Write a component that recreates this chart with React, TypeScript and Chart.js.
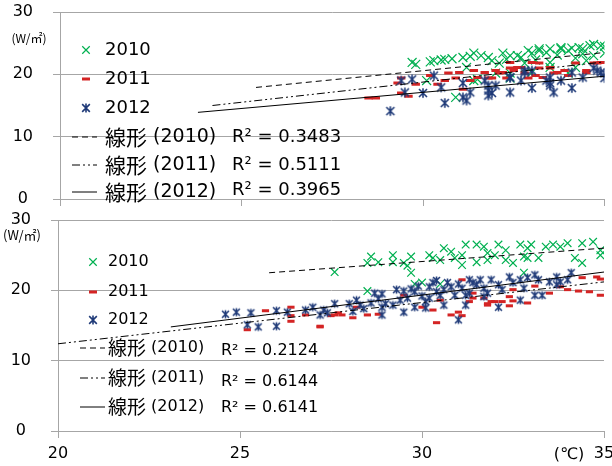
import React, { useEffect, useRef } from 'react';
import { Chart, registerables } from 'chart.js';

Chart.register(...registerables);

type P = [number, number];

const xTicks = [20, 25, 30, 35];
const yTicks = [0, 10, 20, 30];
const seriesNames = ['2010', '2011', '2012'];
const trendWord = '線形';
const trendYears = [' (2010)', ' (2011)', ' (2012)'];
const topR2 = ['R² = 0.3483', 'R² = 0.5111', 'R² = 0.3965'];
const bottomR2 = ['R² = 0.2124', 'R² = 0.6144', 'R² = 0.6141'];
const unitY = '(W/㎡)';
const unitX = '(℃)';

// ---- top chart data ----
const top2010: P[] = [
  [29.8, 21.6], [30.3, 22.2], [30.6, 22.4], [31.1, 22.7], [31.4, 23.4], [31.8, 22.7], [32.2, 23.4], [32.6, 23.0],
  [32.9, 23.8], [33.2, 23.8], [33.5, 24.1], [33.8, 24.1], [34.0, 23.8], [34.3, 24.3], [34.6, 24.6], [34.9, 24.6],
  [30.1, 19.0], [30.9, 16.3], [31.4, 19.0], [32.0, 20.2], [32.4, 19.4], [33.0, 20.3], [33.5, 21.1], [34.2, 21.1],
  [34.5, 22.2], [29.7, 21.9], [30.2, 22.0], [30.5, 22.3], [30.8, 22.5], [31.3, 22.9], [31.6, 23.0], [31.9, 22.2],
  [31.2, 21.1], [31.5, 19.2], [32.1, 21.8], [32.4, 23.0], [32.7, 22.7], [33.0, 23.4], [33.2, 24.1], [33.4, 23.5],
  [33.8, 24.3], [34.1, 24.2], [34.4, 24.1], [34.7, 24.8], [35.0, 24.5], [33.5, 21.9], [32.8, 21.8], [34.2, 22.6],
  [34.7, 23.0], [35.0, 23.4], [32.4, 20.2], [34.0, 20.2], [32.3, 22.4], [33.1, 22.3], [33.7, 23.1], [34.4, 23.3],
];
const top2011: P[] = [
  [28.5, 16.2], [28.7, 16.2], [29.4, 19.4], [29.3, 18.6], [29.4, 17.0], [29.6, 16.5], [29.8, 18.4], [30.2, 19.8],
  [30.4, 18.4], [30.6, 19.0], [30.7, 20.2], [30.9, 19.4], [31.0, 20.3], [31.1, 17.6], [31.3, 19.0], [31.4, 20.6],
  [31.5, 19.5], [31.7, 20.3], [31.8, 19.4], [32.0, 20.6], [32.2, 20.3], [32.3, 19.4], [32.4, 21.0], [32.5, 20.6],
  [32.7, 21.1], [32.8, 20.2], [33.0, 21.9], [33.1, 19.8], [33.2, 21.8], [33.3, 19.5], [33.5, 21.0], [33.7, 20.3],
  [34.0, 19.8], [34.2, 21.8], [34.5, 20.6], [34.7, 21.8], [34.9, 21.9], [32.4, 21.9], [32.6, 21.1], [32.1, 20.2],
  [31.9, 19.4], [33.2, 21.0], [33.5, 21.1], [33.6, 20.2], [33.9, 20.6], [34.5, 20.3], [34.8, 21.8], [32.9, 19.4],
];
const top2012: P[] = [
  [29.1, 14.1], [29.4, 19.0], [29.5, 17.1], [29.7, 19.2], [30.0, 17.0], [30.3, 19.8], [30.5, 17.9], [30.6, 15.4],
  [31.1, 18.6], [31.1, 16.3], [31.2, 15.8], [31.3, 17.1], [31.7, 19.0], [31.8, 17.4], [31.8, 16.6], [32.0, 18.2],
  [32.4, 17.1], [32.4, 19.5], [32.8, 20.6], [33.0, 20.6], [33.0, 17.8], [33.5, 19.5], [33.5, 18.2], [33.6, 17.1],
  [33.8, 19.0], [34.1, 17.8], [34.1, 20.3], [34.4, 19.5], [34.7, 21.0], [34.9, 20.3], [35.0, 19.4], [31.8, 18.2],
  [32.8, 20.3], [33.4, 19.0], [34.8, 20.6], [35.0, 20.2], [32.4, 19.5], [32.7, 19.0], [33.5, 18.6], [31.9, 17.0],
];
const topTrend2010: P[] = [[25.4, 17.9], [35, 23.5]];
const topTrend2011: P[] = [[24.2, 15.0], [35, 22.0]];
const topTrend2012: P[] = [[23.8, 13.9], [35, 19.7]];

// ---- bottom chart data ----
const bot2010: P[] = [
  [27.6, 22.6], [28.5, 23.9], [28.6, 24.8], [28.8, 24.0], [29.2, 25.0], [29.2, 24.0], [29.5, 23.9], [29.7, 24.8],
  [29.7, 22.5], [29.6, 23.5], [30.2, 25.0], [30.3, 24.6], [30.5, 24.3], [30.6, 26.0], [30.8, 25.5], [30.9, 24.6],
  [31.1, 25.0], [31.2, 26.5], [31.1, 23.6], [28.5, 19.9], [29.8, 20.9], [30.0, 21.1], [30.5, 20.9], [31.5, 26.5],
  [31.7, 26.2], [31.8, 25.3], [31.5, 24.0], [31.8, 24.3], [32.0, 25.0], [32.1, 26.5], [32.3, 25.7], [32.3, 24.3],
  [32.5, 23.9], [32.7, 26.5], [32.8, 24.8], [32.9, 26.0], [32.9, 24.6], [33.0, 26.5], [33.2, 24.6], [33.4, 26.2],
  [33.6, 26.5], [33.8, 26.2], [34.0, 26.7], [34.2, 24.6], [34.4, 23.9], [34.4, 26.7], [34.7, 26.9], [34.9, 25.7],
  [34.9, 25.0], [32.8, 22.5],
];
const bot2011: P[] = [
  [25.7, 17.1], [25.2, 14.4], [26.4, 17.6], [26.4, 16.4], [26.4, 15.6], [26.8, 16.5], [27.2, 14.8], [27.5, 16.4],
  [27.7, 16.8], [27.6, 16.5], [27.8, 16.5], [28.1, 16.1], [28.2, 17.6], [28.5, 16.5], [28.8, 16.6], [29.5, 19.3],
  [30.0, 17.6], [30.3, 17.2], [30.5, 18.6], [30.4, 15.4], [30.8, 16.5], [31.0, 16.9], [31.1, 21.5], [31.3, 18.4],
  [31.4, 19.6], [31.4, 18.9], [31.7, 18.9], [31.8, 18.1], [32.0, 18.4], [32.2, 18.4], [32.4, 19.1], [32.5, 18.5],
  [32.9, 18.2], [32.5, 20.1], [33.1, 20.6], [33.5, 19.6], [33.8, 20.5], [34.0, 20.1], [34.3, 19.9], [34.4, 21.8],
  [34.6, 19.8], [34.8, 21.9], [34.9, 21.6], [34.9, 19.3], [32.4, 17.8], [31.9, 18.4], [31.8, 17.9], [31.1, 16.4],
  [27.2, 14.9],
];
const bot2012: P[] = [
  [24.6, 16.6], [24.9, 16.9], [25.3, 16.8], [26.0, 17.1], [26.3, 16.9], [26.8, 17.2], [27.0, 17.6], [27.3, 17.2],
  [27.6, 18.1], [25.2, 15.1], [25.5, 14.8], [26.0, 14.9], [27.4, 16.8], [27.2, 16.5], [28.0, 18.1], [28.3, 17.9],
  [28.6, 18.2], [28.7, 19.6], [28.9, 19.5], [28.9, 17.6], [28.9, 16.5], [29.2, 17.9], [29.3, 20.1], [29.5, 19.9],
  [29.5, 16.9], [29.7, 20.2], [29.8, 17.6], [29.8, 19.8], [30.0, 19.2], [30.1, 18.4], [30.1, 17.5], [30.2, 20.5],
  [30.3, 21.1], [30.4, 19.8], [30.5, 19.3], [30.6, 17.9], [30.7, 21.1], [30.8, 20.5], [30.9, 19.3], [31.1, 20.3],
  [31.2, 17.9], [31.2, 19.3], [31.0, 15.8], [29.4, 18.6], [31.3, 21.5], [31.4, 21.1], [31.6, 21.5], [31.7, 20.3],
  [31.8, 19.6], [31.9, 21.5], [32.1, 20.8], [32.2, 20.1], [32.4, 21.9], [32.5, 21.1], [32.7, 21.5], [32.8, 20.3],
  [32.9, 21.8], [33.1, 22.2], [33.2, 21.5], [31.7, 19.1], [32.1, 17.6], [32.7, 18.6], [33.1, 19.3], [33.3, 19.3],
  [33.5, 21.2], [33.7, 21.9], [33.8, 21.2], [34.0, 21.5], [34.1, 22.5], [33.7, 20.8], [31.3, 19.6], [31.5, 20.8],
  [28.2, 18.6], [28.4, 17.4], [28.8, 18.8], [29.0, 18.1], [29.6, 18.9], [30.2, 18.9], [30.6, 20.1], [31.0, 20.9],
  [29.9, 20.6], [30.4, 21.4], [28.1, 17.0],
];
const botTrend2010: P[] = [[25.8, 22.5], [35, 26.0]];
const botTrend2011: P[] = [[20, 12.4], [35, 21.2]];
const botTrend2012: P[] = [[23.1, 14.8], [35, 22.6]];

// ---- styles ----
const GREEN = '#00B050';
const RED = '#D42424';
const NAVY = '#1F3A78';
const GRID = '#a6a6a6';
const LATIN = "'DejaVu Sans', 'Noto Sans CJK JP', sans-serif";
const CJK = "'Noto Sans CJK JP', sans-serif";
const DASHES: number[][] = [[6, 4], [8, 3, 2, 3, 2, 3], []];

const toPts = (a: P[]) => a.map(([x, y]) => ({ x, y }));

// asterisk marker: X plus vertical bar
function drawAsterisk(ctx: CanvasRenderingContext2D, cx: number, cy: number, s: number) {
  const d = s * 0.85;
  ctx.save();
  ctx.strokeStyle = NAVY;
  ctx.lineWidth = 1.6;
  ctx.lineCap = 'butt';
  ctx.beginPath();
  ctx.moveTo(cx - d, cy - d); ctx.lineTo(cx + d, cy + d);
  ctx.moveTo(cx - d, cy + d); ctx.lineTo(cx + d, cy - d);
  ctx.moveTo(cx, cy - s); ctx.lineTo(cx, cy + s);
  ctx.stroke();
  ctx.restore();
}

function asteriskImage(s: number): HTMLCanvasElement {
  const c = document.createElement('canvas');
  const n = Math.ceil(s * 2 + 4);
  c.width = n; c.height = n;
  const ctx = c.getContext('2d')!;
  drawAsterisk(ctx, n / 2, n / 2, s);
  return c;
}

function drawMarker(ctx: CanvasRenderingContext2D, kind: number, x: number, y: number, s: number) {
  ctx.save();
  ctx.beginPath();
  if (kind === 0) {
    const d = s * 0.75;
    ctx.strokeStyle = GREEN; ctx.lineWidth = 1.2;
    ctx.moveTo(x - d, y - d); ctx.lineTo(x + d, y + d);
    ctx.moveTo(x - d, y + d); ctx.lineTo(x + d, y - d);
    ctx.stroke();
  } else if (kind === 1) {
    ctx.strokeStyle = RED; ctx.lineWidth = 3;
    ctx.moveTo(x - s * 0.8, y); ctx.lineTo(x + s * 0.8, y);
    ctx.stroke();
  } else {
    drawAsterisk(ctx, x, y, s * 0.9);
  }
  ctx.restore();
}

interface LegendCfg {
  font: number;
  cjkFont: number;
  trendFont: number;
  markerX: number;
  lineX0: number;
  lineX1: number;
  textX: number;
  rows: number[];
  r2X: number;
  r2Y: number[];
  r2Font: number;
  r2: string[];
  unitYPos: [number, number, number];
  unitXPos?: [number, number];
}

function legendPlugin(cfg: LegendCfg) {
  return {
    id: 'customLegend',
    afterDraw(chart: any) {
      const ctx: CanvasRenderingContext2D = chart.ctx;
      ctx.save();
      ctx.fillStyle = '#000';
      ctx.textBaseline = 'middle';
      ctx.textAlign = 'left';
      ctx.font = `${cfg.font}px ${LATIN}`;
      for (let i = 0; i < 3; i++) {
        drawMarker(ctx, i, cfg.markerX, cfg.rows[i], 5);
        ctx.fillText(seriesNames[i], cfg.textX, cfg.rows[i]);
      }
      for (let i = 0; i < 3; i++) {
        const y = cfg.rows[3 + i];
        ctx.save();
        ctx.strokeStyle = '#000';
        ctx.lineWidth = 1;
        ctx.setLineDash(DASHES[i]);
        ctx.beginPath();
        ctx.moveTo(cfg.lineX0, y);
        ctx.lineTo(cfg.lineX1, y);
        ctx.stroke();
        ctx.restore();
        ctx.font = `${cfg.cjkFont}px ${CJK}`;
        ctx.fillText(trendWord, cfg.textX, y);
        const w = ctx.measureText(trendWord).width;
        ctx.font = `${cfg.trendFont}px ${LATIN}`;
        ctx.fillText(trendYears[i], cfg.textX + w, y);
        ctx.font = `${cfg.r2Font}px ${LATIN}`;
        ctx.fillText(cfg.r2[i], cfg.r2X, cfg.r2Y[i]);
      }
      ctx.font = `${cfg.unitYPos[2]}px ${CJK}`;
      ctx.textAlign = 'center';
      ctx.fillText(unitY, cfg.unitYPos[0], cfg.unitYPos[1]);
      if (cfg.unitXPos) {
        ctx.font = `16px ${LATIN}`;
        ctx.fillText(unitX, cfg.unitXPos[0], cfg.unitXPos[1]);
      }
      ctx.restore();
    },
  };
}

function buildConfig(opts: {
  s2010: P[]; s2011: P[]; s2012: P[]; t2010: P[]; t2011: P[]; t2012: P[];
  showX: boolean; yWidth: number; xHeight: number; padTop: number; padRight: number;
  markerScale: number; legend: LegendCfg;
}): any {
  const trend = (d: P[], i: number) => ({
    data: toPts(d), showLine: true, borderColor: '#000', borderWidth: 1, borderDash: DASHES[i],
    pointRadius: 0, pointHoverRadius: 0, fill: false, order: 0,
  });
  const k = opts.markerScale;
  return {
    type: 'scatter',
    data: {
      datasets: [
        trend(opts.t2010, 0), trend(opts.t2011, 1), trend(opts.t2012, 2),
        { label: seriesNames[2], data: toPts(opts.s2012), pointStyle: asteriskImage(4.5 * k), radius: 5, borderColor: NAVY, backgroundColor: NAVY, order: 1 },
        { label: seriesNames[1], data: toPts(opts.s2011), pointStyle: 'line', radius: 4 * k, borderColor: RED, backgroundColor: RED, borderWidth: 3, order: 2 },
        { label: seriesNames[0], data: toPts(opts.s2010), pointStyle: 'crossRot', radius: 6 * k, borderColor: GREEN, backgroundColor: GREEN, borderWidth: 1.2, order: 3 },
      ],
    },
    options: {
      responsive: false,
      animation: false,
      devicePixelRatio: 1,
      layout: { padding: { top: opts.padTop, right: opts.padRight, left: 0, bottom: 0 } },
      plugins: { legend: { display: false }, tooltip: { enabled: false } },
      scales: {
        x: {
          type: 'linear', min: 20, max: 35,
          afterBuildTicks: (s: any) => { s.ticks = xTicks.map((v) => ({ value: v })); },
          grid: { drawOnChartArea: false, drawTicks: true, tickLength: 7, color: GRID },
          border: { display: true, color: GRID, width: 1 },
          ticks: { display: opts.showX, color: '#000', font: { family: LATIN, size: 16 }, padding: 6, maxRotation: 0 },
          afterFit: (s: any) => { s.height = opts.xHeight; s.paddingLeft = 0; s.paddingRight = 0; },
        },
        y: {
          type: 'linear', min: 0, max: 30,
          afterBuildTicks: (s: any) => { s.ticks = yTicks.map((v) => ({ value: v })); },
          grid: { color: GRID, tickLength: 7, lineWidth: 1 },
          border: { display: true, color: GRID, width: 1 },
          ticks: { crossAlign: 'center', padding: 20, color: '#000', font: { family: LATIN, size: 16 } },
          afterFit: (s: any) => { s.width = opts.yWidth; s.paddingTop = 0; s.paddingBottom = 0; },
        },
      },
    },
    plugins: [legendPlugin(opts.legend)],
  };
}

function ChartCanvas({ config, width, height, top }: { config: () => any; width: number; height: number; top: number }) {
  const ref = useRef<HTMLCanvasElement | null>(null);
  useEffect(() => {
    if (!ref.current) return;
    const chart = new Chart(ref.current, config());
    return () => chart.destroy();
  }, [config]);
  return (
    <canvas
      ref={ref}
      width={width}
      height={height}
      style={{ position: 'absolute', left: 0, top, width, height, display: 'block' }}
    />
  );
}

const topConfig = () => buildConfig({
  s2010: top2010, s2011: top2011, s2012: top2012,
  t2010: topTrend2010, t2011: topTrend2011, t2012: topTrend2012,
  showX: false, yWidth: 60, xHeight: 11, padTop: 12, padRight: 2, markerScale: 1.05,
  legend: {
    font: 18, cjkFont: 21, trendFont: 19, markerX: 86, lineX0: 72, lineX1: 97, textX: 105,
    rows: [50, 79, 108, 137, 165, 192],
    r2X: 232, r2Y: [137, 165, 190], r2Font: 18, r2: topR2,
    unitYPos: [29, 38, 12],
  },
});

const bottomConfig = () => buildConfig({
  s2010: bot2010, s2011: bot2011, s2012: bot2012,
  t2010: botTrend2010, t2011: botTrend2011, t2012: botTrend2012,
  showX: true, yWidth: 58, xHeight: 35, padTop: 20, padRight: 8, markerScale: 0.9,
  legend: {
    font: 16, cjkFont: 19, trendFont: 16, markerX: 93, lineX0: 80, lineX1: 105, textX: 108,
    rows: [62, 92, 120, 148, 178, 207],
    r2X: 221, r2Y: [151, 182, 208], r2Font: 16, r2: bottomR2,
    unitYPos: [22, 35, 13], unitXPos: [569, 255],
  },
});

export default function App() {
  return (
    <div style={{ position: 'fixed', left: 0, top: 0, width: 612, height: 466, background: '#fff', overflow: 'hidden' }}>
      <ChartCanvas config={topConfig} width={612} height={210} top={0} />
      <ChartCanvas config={bottomConfig} width={612} height={266} top={200} />
    </div>
  );
}
